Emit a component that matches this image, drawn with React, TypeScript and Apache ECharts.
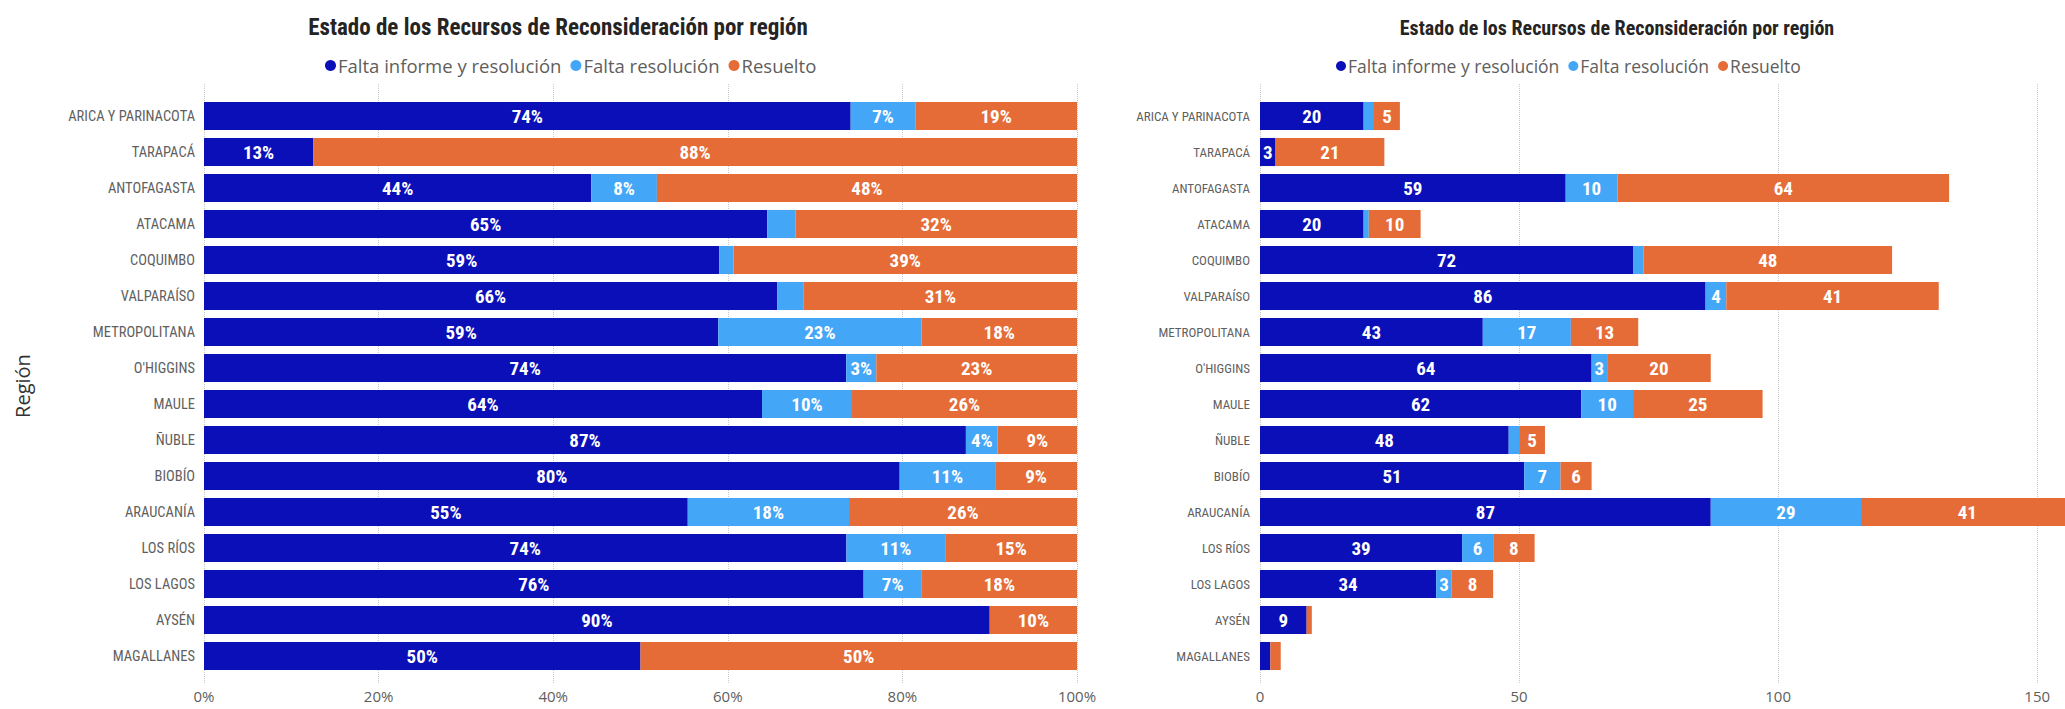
import React, { useEffect, useRef } from 'react';
import * as echarts from 'echarts';

const categories = [
  'ARICA Y PARINACOTA', 'TARAPACÁ', 'ANTOFAGASTA', 'ATACAMA', 'COQUIMBO', 'VALPARAÍSO',
  'METROPOLITANA', "O'HIGGINS", 'MAULE', 'ÑUBLE', 'BIOBÍO', 'ARAUCANÍA', 'LOS RÍOS',
  'LOS LAGOS', 'AYSÉN', 'MAGALLANES',
];
const faltaInforme = [20, 3, 59, 20, 72, 86, 43, 64, 62, 48, 51, 87, 39, 34, 9, 2];
const faltaResolucion = [2, 0, 10, 1, 2, 4, 17, 3, 10, 2, 7, 29, 6, 3, 0, 0];
const resuelto = [5, 21, 64, 10, 48, 41, 13, 20, 25, 5, 6, 41, 8, 8, 1, 2];

const seriesNames = ['Falta informe y resolución', 'Falta resolución', 'Resuelto'];
const seriesColors = ['#0b0fb8', '#44a6f6', '#e66c37'];
const titleText = 'Estado de los Recursos de Reconsideración por región';
const axisName = 'Región';

const NARROW = "'Liberation Sans Narrow', 'Roboto Condensed', 'DejaVu Sans Condensed', Roboto, sans-serif";
const SANS = "'Open Sans', 'Noto Sans', sans-serif";

const totals = categories.map((_, i) => faltaInforme[i] + faltaResolucion[i] + resuelto[i]);
const toPct = (arr: number[]) => arr.map((v, i) => (v / totals[i]) * 100);
const countSeries = [faltaInforme, faltaResolucion, resuelto];

export default function App() {
  const ref = useRef<HTMLDivElement>(null);
  useEffect(() => {
    if (!ref.current) return;
    const chart = echarts.init(ref.current, null, { renderer: 'svg' });
    const gridTop = 98;
    const gridHeight = 576;
    const lineTop = 84;
    const lineHeight = 600;
    const labelStyle = {
      show: true,
      position: 'inside',
      color: '#ffffff',
      fontFamily: NARROW,
      fontWeight: 'bold',
      fontSize: 19,
    };
    const leftSeries = countSeries.map((arr, k) => ({
      name: seriesNames[k],
      type: 'bar',
      stack: 'pct',
      xAxisIndex: 0,
      yAxisIndex: 0,
      barCategoryGap: '22%',
      itemStyle: { color: seriesColors[k] },
      label: {
        ...labelStyle,
        formatter: (p: any) => (p.value >= 3.3 ? Math.round(p.value) + '%' : ''),
      },
      data: toPct(arr),
    }));
    const rightSeries = countSeries.map((arr, k) => ({
      name: seriesNames[k],
      type: 'bar',
      stack: 'cnt',
      xAxisIndex: 1,
      yAxisIndex: 1,
      barCategoryGap: '22%',
      itemStyle: { color: seriesColors[k] },
      label: {
        ...labelStyle,
        formatter: (p: any) => (p.value >= 3 ? String(p.value) : ''),
      },
      data: arr,
    }));
    const xAxisCommon = {
      type: 'value',
      min: 0,
      axisLine: { show: false },
      axisTick: { show: false },
      splitLine: { show: false },
      axisLabel: { color: '#605E5C', fontSize: 15, fontFamily: SANS, margin: 14 },
    };
    const lineAxisCommon = {
      type: 'value',
      min: 0,
      axisLine: { show: false },
      axisTick: { show: false },
      axisLabel: { show: false },
      splitLine: { show: true, lineStyle: { type: 'dotted', color: '#c8c8c8', width: 1 } },
    };
    const yAxisCommon = {
      type: 'category',
      inverse: true,
      data: categories,
      axisLine: { show: false },
      axisTick: { show: false },
      splitLine: { show: false },
    };
    chart.setOption({
      animation: false,
      backgroundColor: '#ffffff',
      title: [
        {
          text: titleText,
          left: 553,
          top: 11,
          textAlign: 'center',
          textStyle: { fontFamily: NARROW, fontWeight: 'bold', fontSize: 23, color: '#252423' },
        },
        {
          text: titleText,
          left: 1612,
          top: 13,
          textAlign: 'center',
          textStyle: { fontFamily: NARROW, fontWeight: 'bold', fontSize: 20, color: '#252423' },
        },
      ],
      legend: [
        {
          data: seriesNames,
          left: 320,
          top: 51,
          icon: 'circle',
          itemWidth: 11,
          itemHeight: 11,
          itemGap: 9,
          textStyle: { color: '#605E5C', fontSize: 18.5, fontFamily: SANS, padding: [0, 0, 0, -3] },
        },
        {
          data: seriesNames,
          left: 1331,
          top: 52,
          icon: 'circle',
          itemWidth: 10,
          itemHeight: 10,
          itemGap: 9,
          textStyle: { color: '#605E5C', fontSize: 17.5, fontFamily: SANS, padding: [0, 0, 0, -3] },
        },
      ],
      grid: [
        { left: 204, top: gridTop, width: 873, height: gridHeight },
        { left: 1260, top: gridTop, width: 829, height: gridHeight },
        { left: 204, top: lineTop, width: 873, height: lineHeight },
        { left: 1260, top: lineTop, width: 829, height: lineHeight },
      ],
      xAxis: [
        {
          ...xAxisCommon,
          gridIndex: 0,
          max: 100,
          interval: 20,
          axisLabel: { ...xAxisCommon.axisLabel, formatter: '{value}%' },
        },
        {
          ...xAxisCommon,
          gridIndex: 1,
          max: 160,
          interval: 50,
          axisLabel: { ...xAxisCommon.axisLabel, showMaxLabel: false },
        },
        { ...lineAxisCommon, gridIndex: 2, max: 100, interval: 20 },
        { ...lineAxisCommon, gridIndex: 3, max: 160, interval: 50 },
      ],
      yAxis: [
        {
          ...yAxisCommon,
          gridIndex: 0,
          axisLabel: { color: '#5f5f5f', fontSize: 14.5, fontFamily: NARROW, margin: 9 },
          name: axisName,
          nameLocation: 'middle',
          nameRotate: 90,
          nameGap: 172,
          nameTextStyle: { color: '#333333', fontSize: 20, fontFamily: SANS },
        },
        {
          ...yAxisCommon,
          gridIndex: 1,
          axisLabel: { color: '#5f5f5f', fontSize: 13, fontFamily: NARROW, margin: 10 },
        },
        { type: 'value', gridIndex: 2, show: false, min: 0, max: 1 },
        { type: 'value', gridIndex: 3, show: false, min: 0, max: 1 },
      ],
      series: [...leftSeries, ...rightSeries],
    });
    return () => chart.dispose();
  }, []);
  return (
    <div
      style={{
        position: 'fixed',
        left: 0,
        top: 0,
        width: 2065,
        height: 709,
        overflow: 'hidden',
        background: '#ffffff',
      }}
    >
      <div ref={ref} style={{ width: 2120, height: 709 }} />
    </div>
  );
}
